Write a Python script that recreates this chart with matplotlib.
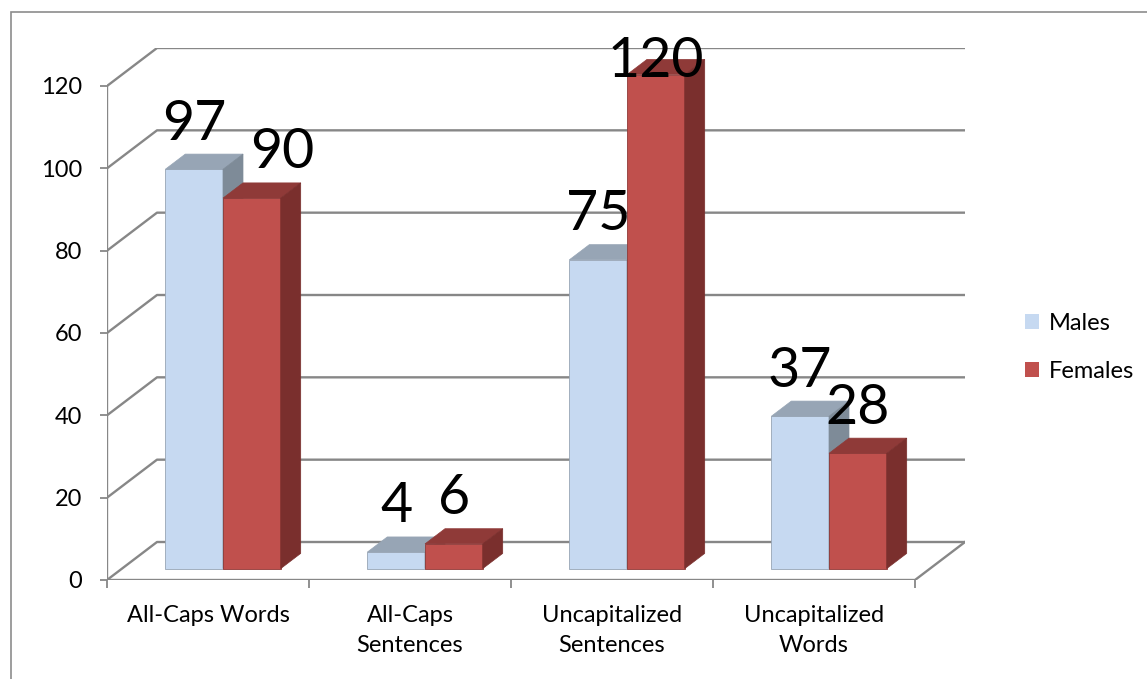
import matplotlib.pyplot as plt
from matplotlib.patches import Polygon, Patch, Rectangle

# chart data
categories = ["All-Caps Words", "All-Caps\nSentences", "Uncapitalized\nSentences", "Uncapitalized\nWords"]
series_names = ["Males", "Females"]
males = [97, 4, 75, 37]
females = [90, 6, 120, 28]
y_ticks = [0, 20, 40, 60, 80, 100, 120]

plt.rcParams['font.family'] = ['Lato', 'DejaVu Sans']

# colours: front, top, side
male_cols = ['#c6d9f1', '#97a5b5', '#7e8b98']
female_cols = ['#c0504d', '#8f3a38', '#7a2f2d']
grid_col = '#878787'

# fake 3d look (oblique projection)
depth_dx = 0.2475   # in category units
depth_dy = 9.23     # in value units
bar_w = 0.2857
d_front, d_back = 0.3, 0.7

W, H = 1147, 679
fig = plt.figure(figsize=(W / 100, H / 100), dpi=100)
ax = fig.add_axes([107 / W, 99 / H, (965 - 107) / W, (631 - 99) / H])
n = len(categories)
ax.set_xlim(-0.5, n - 0.5 + depth_dx)
ax.set_ylim(0, y_ticks[-1] + depth_dy)
for s in ax.spines.values():
    s.set_visible(False)

# walls / gridlines
for t in y_ticks:
    ax.plot([-0.5, -0.5 + depth_dx, n - 0.5 + depth_dx], [t, t + depth_dy, t + depth_dy],
            color=grid_col, lw=1.7, zorder=1, solid_capstyle='butt')
ax.plot([-0.5, n - 0.5, n - 0.5 + depth_dx], [0, 0, depth_dy], color=grid_col, lw=1.7, zorder=1)
ax.plot([-0.5, -0.5], [0, y_ticks[-1]], color=grid_col, lw=1.7, zorder=1)

# bars
bdx = (d_back - d_front) * depth_dx
bdy = (d_back - d_front) * depth_dy
label_nudge = [[0, 0.15], [0, 0], [0, 0], [0, 0]]
for i in range(n):
    for s, (vals, cols) in enumerate([(males, male_cols), (females, female_cols)]):
        v = vals[i]
        fx = i - bar_w + s * bar_w + d_front * depth_dx
        fy = d_front * depth_dy
        ax.bar(fx, v, width=bar_w, bottom=fy, align='edge', color=cols[0],
               edgecolor=cols[1], linewidth=0.6, zorder=3)
        top = [(fx, fy + v), (fx + bar_w, fy + v), (fx + bar_w + bdx, fy + v + bdy), (fx + bdx, fy + v + bdy)]
        side = [(fx + bar_w, fy), (fx + bar_w, fy + v), (fx + bar_w + bdx, fy + v + bdy), (fx + bar_w + bdx, fy + bdy)]
        ax.add_patch(Polygon(top, closed=True, fc=cols[1], ec=cols[1], lw=0.5, zorder=3))
        ax.add_patch(Polygon(side, closed=True, fc=cols[2], ec=cols[2], lw=0.5, zorder=3))
        ly = min(v + 10, 122.2)
        ax.text(fx + bar_w / 2 + label_nudge[i][s], ly, str(v), ha='center', va='baseline',
                fontsize=40, color='black', zorder=10)

# ticks
ax.set_yticks(y_ticks)
ax.set_yticklabels([str(t) for t in y_ticks])
ax.tick_params(axis='y', length=5, width=1.3, color=grid_col, pad=13, labelsize=17)
ax.set_xticks(range(n))
ax.set_xticklabels(categories, linespacing=1.55)
ax.set_xticks([k - 0.5 for k in range(n + 1)], minor=True)
ax.tick_params(axis='x', which='major', length=0, pad=18, labelsize=17)
ax.tick_params(axis='x', which='minor', length=6, width=1.3, color=grid_col)

handles = [Patch(facecolor=male_cols[0]), Patch(facecolor=female_cols[0])]
fig.legend(handles, series_names, loc='upper left', bbox_to_anchor=(1025 / W, (H - 313) / H),
           frameon=False, fontsize=17, handlelength=0.6, handleheight=0.6,
           handletextpad=0.4, labelspacing=1.13, borderpad=0, borderaxespad=0)

# outer chart border
fig.add_artist(Rectangle((11 / W, -0.1), 1.2, (H - 12) / H + 0.1, transform=fig.transFigure,
                         fill=False, ec='#8c8c8c', lw=1.2))

fig.savefig('out.png', dpi=100)
